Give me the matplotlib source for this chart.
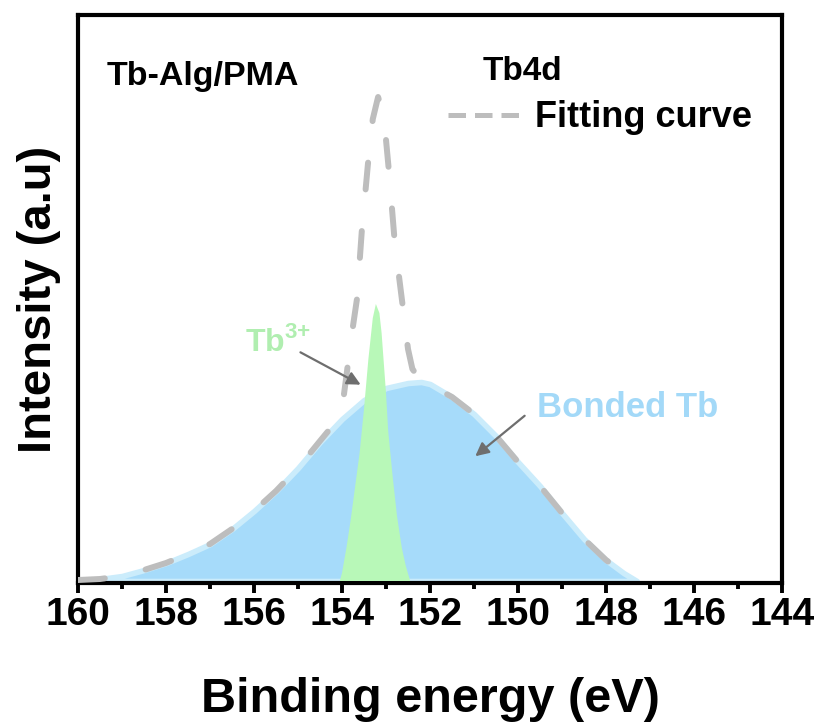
#! /usr/bin/env python3

import numpy as np
import matplotlib
matplotlib.use('Agg')
import matplotlib.pyplot as plt
from matplotlib.lines import Line2D

plt.rcParams['font.family'] = ['Liberation Sans', 'DejaVu Sans']
plt.rcParams['font.weight'] = 'bold'
plt.rcParams['mathtext.fontset'] = 'custom'
plt.rcParams['mathtext.rm'] = 'Liberation Sans:bold'
plt.rcParams['mathtext.bf'] = 'Liberation Sans:bold'

# binding energy (eV) and intensity
be_fit = [160.0, 159.5, 159.0, 158.5, 158.0, 157.5, 157.0, 156.5, 156.0, 155.5,
          155.0, 154.5, 154.2, 154.0, 153.9, 153.8, 153.66, 153.55, 153.4, 153.3,
          153.18, 153.05, 152.93, 152.8, 152.6, 152.5, 152.4, 152.2, 152.0, 151.5,
          151.0, 150.5, 150.0, 149.5, 149.0, 148.5, 148.0, 147.6, 147.3]
fit = [1, 2, 5, 11, 18, 27, 37, 52, 70, 90,
       113, 140, 156, 172, 205, 240, 282, 350, 422, 462,
       484, 465, 408, 338, 268, 232, 212, 200, 196, 184,
       167, 145, 119, 95, 68, 42, 21, 8, 0]

be_bonded = [160.0, 159.5, 159.0, 158.5, 158.0, 157.5, 157.0, 156.5, 156.0, 155.5,
             155.0, 154.5, 154.0, 153.5, 153.0, 152.5, 152.2, 152.0, 151.5, 151.0,
             150.5, 150.0, 149.5, 149.0, 148.5, 148.0, 147.6, 147.3]
bonded = [1, 2, 5, 11, 18, 27, 37, 52, 70, 90,
          113, 139, 162, 181, 193, 198, 199, 197, 184, 167,
          145, 119, 95, 68, 42, 21, 8, 0]

be_tb3 = [154.05, 154.0, 153.9, 153.8, 153.7, 153.6, 153.55, 153.5, 153.4, 153.3,
          153.23, 153.15, 153.1, 153.0, 152.95, 152.85, 152.75, 152.64, 152.55, 152.45]
tb3 = [0, 8, 33, 62, 95, 128, 150, 172, 222, 263,
       277, 268, 248, 188, 150, 105, 65, 33, 15, 0]

xticks = np.arange(160, 143, -2)

fig = plt.figure(figsize=(8.16, 7.22), dpi=100)
ax = fig.add_axes([78/816, 1 - 583/722, 704/816, 568/722])

ax.fill_between(be_bonded, bonded, 0, facecolor='#A6DBFA', edgecolor='#CBECFB',
                linewidth=4, zorder=2)
ax.fill_between(be_tb3, tb3, 0, facecolor='#B8F8B8', edgecolor='none', zorder=3)
ax.plot(be_fit, fit, color='#BDBDBD', lw=4.3, linestyle=(0, (4.5, 7)),
        dash_capstyle='round', zorder=4)

ax.set_xlim(160, 144)
ax.set_ylim(-2, 566)
ax.set_xticks(xticks)
ax.set_xticklabels([str(t) for t in xticks])
ax.set_xticks(np.arange(159, 144, -2), minor=True)
ax.set_yticks([])
ax.tick_params(axis='x', which='major', direction='out', length=7, width=2.8,
               labelsize=28, pad=3)
ax.tick_params(axis='x', which='minor', direction='out', length=4, width=2.8)
for s in ax.spines.values():
    s.set_linewidth(3)

ax.set_xlabel('Binding energy (eV)', fontsize=35, fontweight='bold', labelpad=32)
ax.set_ylabel('Intensity (a.u)', fontsize=34, fontweight='bold', labelpad=12)

ax.text(0.041, 0.877, 'Tb-Alg/PMA', transform=ax.transAxes, fontsize=24.5,
        fontweight='bold', va='baseline', ha='left')
ax.text(0.575, 0.886, 'Tb4d', transform=ax.transAxes, fontsize=24,
        fontweight='bold', va='baseline', ha='left')

handle = Line2D([], [], color='#BDBDBD', lw=3.6, linestyle=(0, (3.5, 1.8)),
                dash_capstyle='butt')
ax.legend([handle], ['Fitting curve'], loc='center left',
          bbox_to_anchor=(0.5256, 0.8187), frameon=False,
          handlelength=2.0, handletextpad=0.42, borderpad=0, borderaxespad=0,
          prop={'weight': 'bold', 'size': 26})

ax.text(156.2, 230, r'Tb$^{3{+}}$', fontsize=23, color='#B0EEB0',
        fontweight='bold', va='baseline', ha='left', zorder=5)
ax.annotate('', xy=(153.52, 195), xytext=(155.0, 230),
            arrowprops=dict(arrowstyle='-|>', color='#6E6E6E', lw=1.6,
                            mutation_scale=20), zorder=5)
ax.text(149.57, 164, 'Bonded Tb', fontsize=25, color='#A3D9F8',
        fontweight='bold', va='baseline', ha='left', zorder=5)
ax.annotate('', xy=(151.02, 123), xytext=(149.8, 167),
            arrowprops=dict(arrowstyle='-|>', color='#6E6E6E', lw=1.6,
                            mutation_scale=20), zorder=5)

fig.savefig('out.png', dpi=100)
